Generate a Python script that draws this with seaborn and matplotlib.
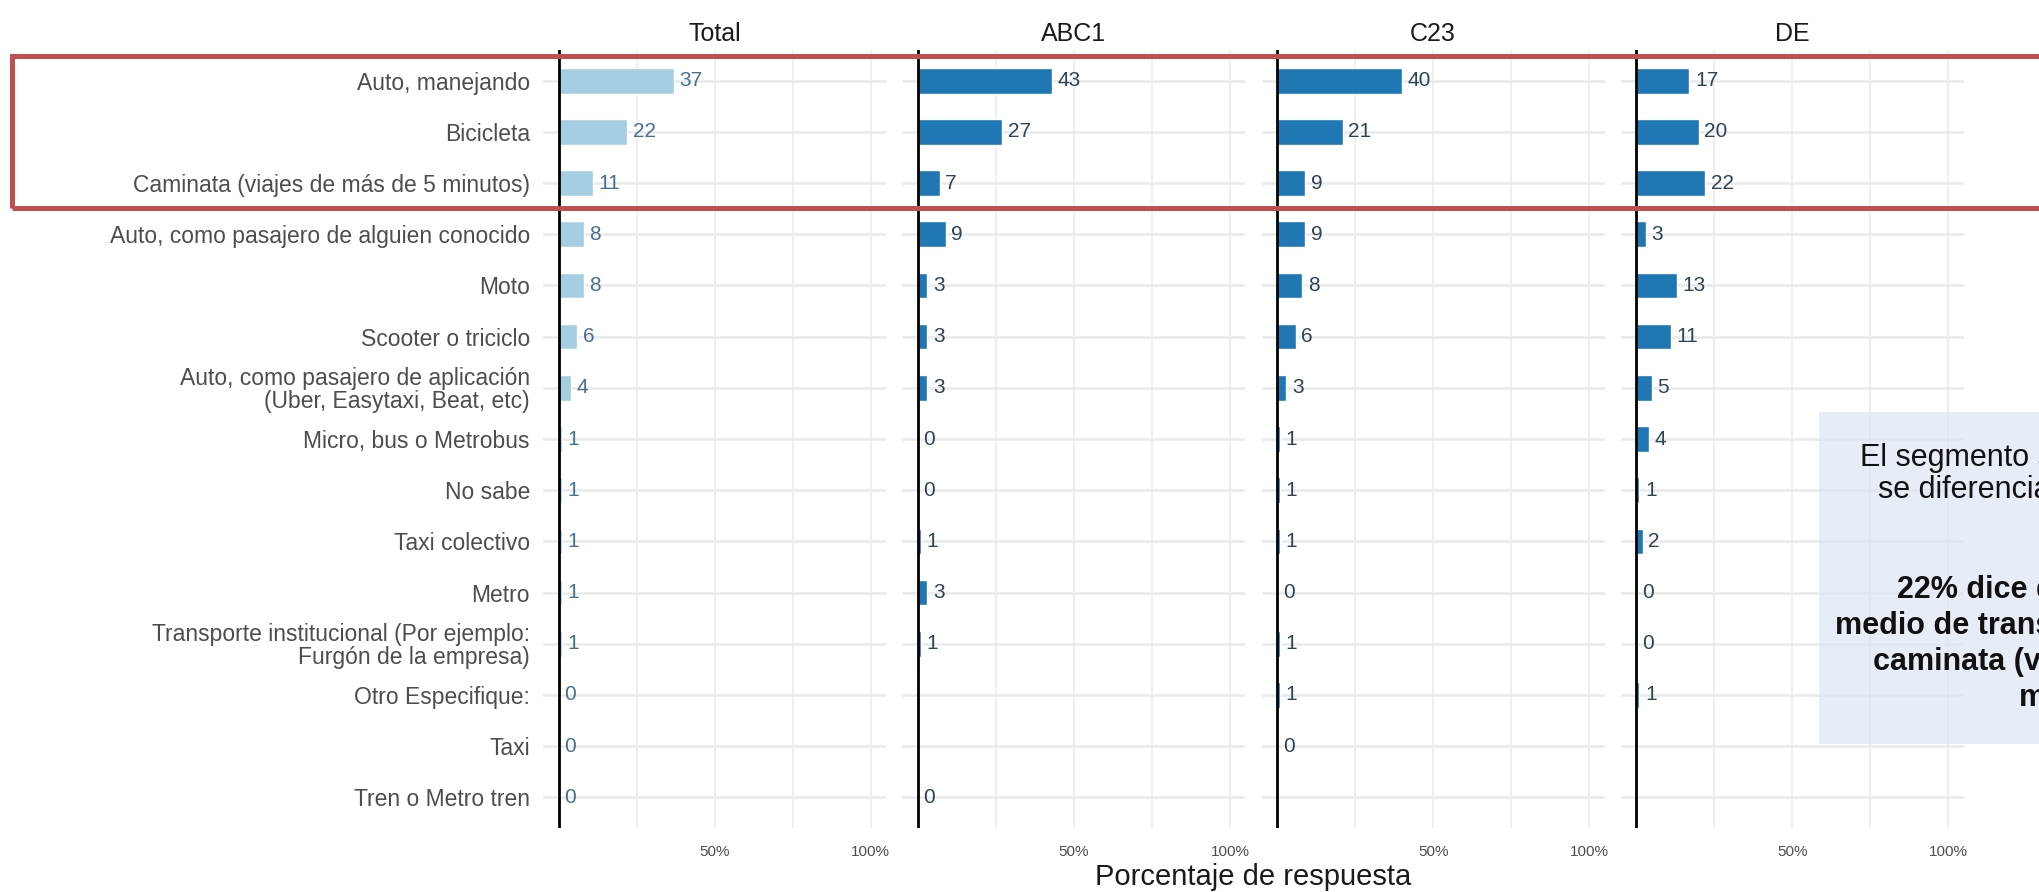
import numpy as np
import pandas as pd
import matplotlib
matplotlib.use("Agg")
import matplotlib.pyplot as plt
from matplotlib.patches import Rectangle
from matplotlib.ticker import FixedLocator
import seaborn as sns

# categories top to bottom
categories = [
    "Auto, manejando",
    "Bicicleta",
    "Caminata (viajes de más de 5 minutos)",
    "Auto, como pasajero de alguien conocido",
    "Moto",
    "Scooter o triciclo",
    "Auto, como pasajero de aplicación\n(Uber, Easytaxi, Beat, etc)",
    "Micro, bus o Metrobus",
    "No sabe",
    "Taxi colectivo",
    "Metro",
    "Transporte institucional (Por ejemplo:\nFurgón de la empresa)",
    "Otro Especifique:",
    "Taxi",
    "Tren o Metro tren",
]
segments = ["Total", "ABC1", "C23", "DE"]

total = [37, 22, 11, 8, 8, 6, 4, 1, 1, 1, 1, 1, 0, 0, 0]
abc1 = [43, 27, 7, 9, 3, 3, 3, 0, 0, 1, 3, 1, np.nan, np.nan, 0]
c23 = [40, 21, 9, 9, 8, 6, 3, 1, 1, 1, 0, 1, 1, 0, np.nan]
de = [17, 20, 22, 3, 13, 11, 5, 4, 1, 2, 0, 0, 1, np.nan, np.nan]

note_regular = "El segmento socioeconómico DE\nse diferencia del resto porque:"
note_bold = ("22% dice que su principal\nmedio de transporte habitual es la\n"
             "caminata (viajes de más de 5\nminutos)")

df = pd.DataFrame({
    "categoria": categories * 4,
    "segmento": np.repeat(segments, len(categories)),
    "pct": total + abc1 + c23 + de,
})

sns.set_theme(style="white")
plt.rcParams["font.family"] = ["Liberation Sans", "DejaVu Sans"]

pal = sns.color_palette("Paired")
bar_colors = {"Total": pal[0], "ABC1": pal[1], "C23": pal[1], "DE": pal[1]}
label_colors = {"Total": "#46708f", "ABC1": "#2d4357", "C23": "#2d4357", "DE": "#2d4357"}

W, H = 2039, 892
fig, axes = plt.subplots(1, 4, figsize=(W / 100, H / 100), dpi=100, sharey=True)
fig.subplots_adjust(left=543 / W, right=1964 / W, bottom=1 - 828 / H, top=1 - 50 / H,
                    wspace=16 / 343)

for ax, seg in zip(axes, segments):
    sub = df[(df["segmento"] == seg) & df["pct"].notna()]
    sns.barplot(data=sub, x="pct", y="categoria", order=categories, orient="h",
                color=bar_colors[seg], width=0.5, saturation=1, ax=ax)

    ax.set_xlim(-5, 105)
    ax.set_ylim(len(categories) - 0.4, -0.6)
    ax.set_axisbelow(True)
    ax.xaxis.set_major_locator(FixedLocator([50, 100]))
    ax.xaxis.set_minor_locator(FixedLocator([25, 75]))
    ax.grid(axis="x", which="both", color="#ebebeb", lw=1.1)
    ax.yaxis.grid(True, which="major", color="#ebebeb", lw=1.9)
    ax.axvline(0, color="black", lw=2.0, zorder=3)

    vals = df.loc[df["segmento"] == seg, "pct"].tolist()
    for i, v in enumerate(vals):
        if np.isnan(v):
            continue
        ax.annotate(f"{v:.0f}", (v, i), xytext=(4, 0), textcoords="offset points",
                    ha="left", va="center", fontsize=15, color=label_colors[seg])

    ax.set_xticklabels(["50%", "100%"])
    ax.tick_params(axis="x", which="both", length=0, pad=12.5, labelsize=11, labelcolor="#4d4d4d")
    ax.tick_params(axis="y", length=0, pad=9.4, labelsize=16.5, labelcolor="#4d4d4d")
    ax.set_xlabel("")
    ax.set_ylabel("")
    for s in ax.spines.values():
        s.set_visible(False)
    ax.text(0.5, 1 + 16 / 778, seg, transform=ax.transAxes, ha="center", va="center",
            fontsize=18, color="#1a1a1a")

for lab in axes[0].get_yticklabels():
    lab.set_linespacing(1.0)

fig.text(1253.5 / W, 1 - 877 / H, "Porcentaje de respuesta", ha="center", va="center",
         fontsize=21, color="#1a1a1a")

# highlight of the first three modes
fig.add_artist(Rectangle((12 / W, 1 - 208 / H), (2100 - 12) / W, (208 - 56) / H,
                         transform=fig.transFigure, fill=False, edgecolor="#c0504d",
                         lw=3.6, clip_on=False, zorder=5))

# side note box (runs off the right edge)
fig.add_artist(Rectangle((1819 / W, 1 - 744 / H), 400 / W, (744 - 412) / H,
                         transform=fig.transFigure, facecolor="#dce6f4", alpha=0.7,
                         edgecolor="none", zorder=4))
fig.text(2083 / W, 1 - 474 / H, note_regular, ha="center", va="center", fontsize=22,
         color="#111111", linespacing=1.1, zorder=6)
fig.text(2083 / W, 1 - 644 / H, note_bold, ha="center", va="center", fontsize=22,
         fontweight="bold", color="#111111", linespacing=1.25, zorder=6)

fig.savefig("out.png", dpi=100)
